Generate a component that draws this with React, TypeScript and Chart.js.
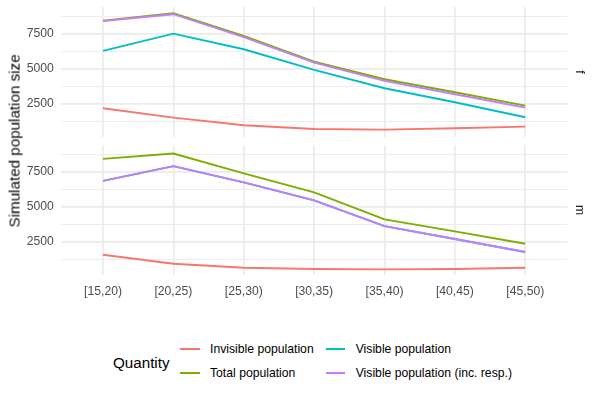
import { useEffect, useRef } from "react";
import { Chart, registerables } from "chart.js";

Chart.register(...registerables);

const categories = ["[15,20)", "[20,25)", "[25,30)", "[30,35)", "[35,40)", "[40,45)", "[45,50)"];

// panel "f"
const invisibleF = [2190, 1524, 979, 714, 667, 764, 881];
const totalF = [8450, 8976, 7357, 5524, 4262, 3333, 2381];
const visibleF = [6286, 7521, 6405, 4929, 3619, 2619, 1548];
const visibleRespF = [8410, 8905, 7264, 5452, 4143, 3190, 2238];

// panel "m"
const invisibleM = [1571, 929, 643, 550, 520, 550, 643];
const totalM = [8429, 8814, 7386, 6029, 4100, 3243, 2357];
const visibleM = [6857, 7907, 6743, 5457, 3621, 2693, 1764];
const visibleRespM = [6857, 7907, 6743, 5457, 3621, 2693, 1764];

const yBreaks = [2500, 5000, 7500];
const yMinorBreaks = [1250, 3750, 6250, 8750];
const yMin = 120;
const yMax = 9420;

const seriesNames = ["Invisible population", "Total population", "Visible population", "Visible population (inc. resp.)"];
const seriesColors = ["#F8766D", "#7CAE00", "#00BFC4", "#C77CFF"];

const fontFamily = '"Liberation Sans", Arial, Helvetica, sans-serif';
const gridColor = "#EBEBEB";
const tickColor = "#4D4D4D";

function buildDatasets(series: number[][]) {
  return series.map((values, i) => ({
    label: seriesNames[i],
    data: values.map((y, x) => ({ x, y })),
    borderColor: seriesColors[i],
    backgroundColor: seriesColors[i],
    borderWidth: 1.9,
    pointRadius: 0,
    tension: 0,
    // later series are drawn on top, like ggplot
    order: series.length - 1 - i,
  }));
}

function Panel({ series, showX, top, height }: { series: number[][]; showX: boolean; top: number; height: number }) {
  const canvasRef = useRef<HTMLCanvasElement>(null);

  useEffect(() => {
    if (!canvasRef.current) return;
    const chart = new Chart(canvasRef.current, {
      type: "line",
      data: { datasets: buildDatasets(series) as any },
      options: {
        animation: false,
        responsive: true,
        maintainAspectRatio: false,
        layout: {
          padding: showX
            ? { top: 5, right: 32.5, bottom: 0, left: 0 }
            : { top: 7, right: 32.5, bottom: 2.7, left: 0 },
        },
        plugins: { legend: { display: false }, tooltip: { enabled: false } },
        scales: {
          x: {
            type: "linear",
            min: -0.6,
            max: categories.length - 0.4,
            afterBuildTicks: (scale: any) => {
              scale.ticks = categories.map((_, i) => ({ value: i }));
            },
            afterFit: (scale: any) => {
              scale.height = showX ? 30 : 0;
            },
            ticks: {
              display: showX,
              autoSkip: false,
              maxRotation: 0,
              padding: 9,
              color: tickColor,
              font: { size: 12.2, family: fontFamily },
              callback: (v: any) => categories[v] ?? "",
            },
            grid: { color: gridColor, lineWidth: 1.7, drawTicks: false },
            border: { display: false },
          },
          y: {
            min: yMin,
            max: yMax,
            afterBuildTicks: (scale: any) => {
              scale.ticks = [...yMinorBreaks, ...yBreaks].sort((a, b) => a - b).map((value) => ({ value }));
            },
            afterFit: (scale: any) => {
              scale.width = 60.8;
            },
            ticks: {
              padding: 0,
              color: tickColor,
              // minor breaks carry no label, so give them no height either
              font: (ctx: any) => ({
                size: 12.2,
                family: fontFamily,
                lineHeight: yBreaks.includes(ctx.tick?.value) ? 1.2 : 0,
              }),
              callback: (v: any) => (yBreaks.includes(v) ? String(v) : ""),
            },
            grid: {
              color: gridColor,
              lineWidth: (ctx: any) => (yBreaks.includes(ctx.tick?.value) ? 1.7 : 0.9),
              drawTicks: true,
              tickLength: 7,
              tickColor: "rgba(0,0,0,0)",
            },
            border: { display: false },
          },
        },
      },
    });
    return () => chart.destroy();
  }, []);

  return (
    <div style={{ position: "absolute", left: 0, top, width: 600, height }}>
      <canvas ref={canvasRef} />
    </div>
  );
}

export default function App() {
  const legendRows = [
    [0, 2],
    [1, 3],
  ];
  return (
    <div
      style={{
        position: "fixed",
        left: 0,
        top: 0,
        width: 600,
        height: 400,
        background: "#fff",
        fontFamily,
        overflow: "hidden",
      }}
    >
      <Panel series={[invisibleF, totalF, visibleF, visibleRespF]} showX={false} top={0} height={140} />
      <Panel series={[invisibleM, totalM, visibleM, visibleRespM]} showX={true} top={140} height={165} />

      <div
        style={{
          position: "absolute",
          left: 13.5,
          top: 141,
          transform: "translate(-50%, -50%) rotate(180deg)",
          writingMode: "vertical-rl",
          whiteSpace: "nowrap",
          fontSize: 15.2,
          lineHeight: 1,
          color: "#000",
        }}
      >
        Simulated population size
      </div>

      <div style={{ position: "absolute", left: 580, top: 72, transform: "translate(-50%, -50%)", writingMode: "vertical-rl", fontSize: 12.2, lineHeight: 1, color: "#1A1A1A" }}>
        f
      </div>
      <div style={{ position: "absolute", left: 580, top: 210, transform: "translate(-50%, -50%)", writingMode: "vertical-rl", fontSize: 12.2, lineHeight: 1, color: "#1A1A1A" }}>
        m
      </div>

      <div style={{ position: "absolute", left: 113, top: 361.7, transform: "translateY(-50%)", fontSize: 15.2, color: "#000" }}>
        Quantity
      </div>
      {legendRows.map((row, r) =>
        row.map((idx, c) => {
          const keyLeft = c === 0 ? 180 : 325.7;
          const cy = r === 0 ? 348.5 : 372.5;
          return (
            <div key={idx}>
              <div
                style={{
                  position: "absolute",
                  left: keyLeft,
                  top: cy - 1,
                  width: 19.5,
                  height: 2,
                  background: seriesColors[idx],
                }}
              />
              <div
                style={{
                  position: "absolute",
                  left: keyLeft + 30,
                  top: cy,
                  transform: "translateY(-50%)",
                  fontSize: 12.2,
                  color: "#000",
                  whiteSpace: "nowrap",
                }}
              >
                {seriesNames[idx]}
              </div>
            </div>
          );
        })
      )}
    </div>
  );
}
